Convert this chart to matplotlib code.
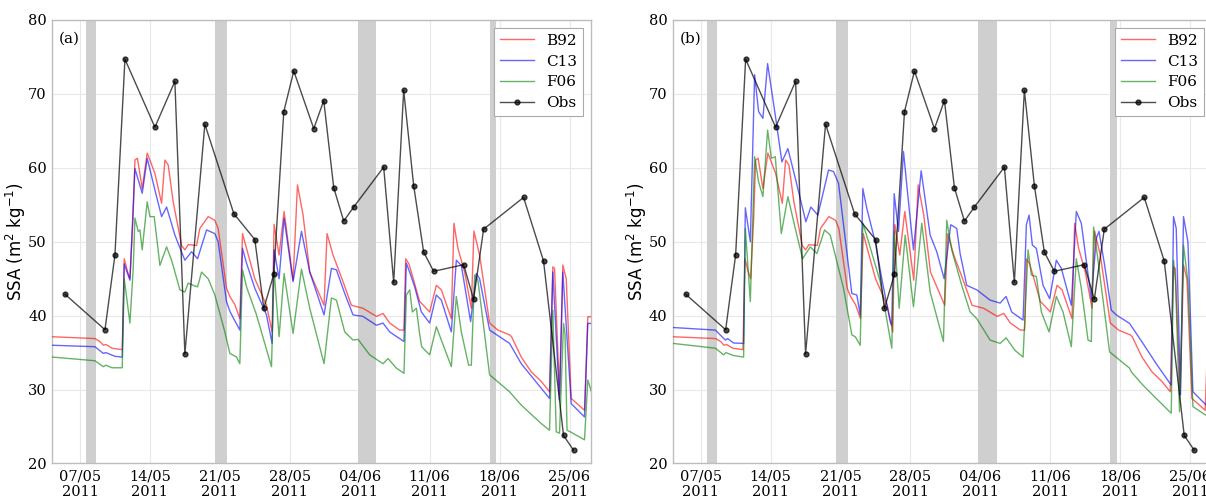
import matplotlib
matplotlib.use("Agg")
import matplotlib.pyplot as plt
import matplotlib.dates as mdates
import numpy as np
import pandas as pd

BASE = pd.Timestamp("2011-05-01")

# ---- Observations (days since 2011-05-01, SSA) ----
obs_days = [4.5, 8.5, 9.5, 10.5, 13.5, 15.5, 16.5, 18.5, 21.4, 23.5, 24.4, 25.4,
            26.4, 27.4, 29.4, 30.4, 31.4, 32.4, 33.4, 36.4, 37.4, 38.4, 39.4, 40.4,
            41.4, 44.4, 45.4, 46.4, 50.4, 52.4, 54.4, 55.4]
obs_vals = [42.9, 38.1, 48.2, 74.7, 65.5, 71.7, 34.8, 65.9, 53.8, 50.3, 41.0, 45.6,
            67.6, 73.1, 65.3, 69.1, 57.3, 52.8, 54.7, 60.1, 44.5, 70.5, 57.6, 48.6,
            46.0, 46.9, 42.2, 51.7, 56.0, 47.4, 23.8, 21.8]

# ---- B92 (same in both panels) ----
b92_days = [3.2, 7.5, 8.0, 8.33, 8.6, 9.2, 10.23, 10.43, 10.75, 11.0, 11.3, 11.5, 11.75,
            12.23, 12.73, 13.5, 14.17, 14.5, 14.83, 15.33, 16.17, 16.5, 16.83, 17.33,
            17.67, 18.0, 18.83, 19.5, 19.83, 20.67, 21.0, 21.5, 22.0, 22.27, 22.67, 23.5,
            24.67, 25.23, 25.43, 25.93, 26.43, 27.33, 27.77, 28.33, 29.0, 30.43, 30.73,
            31.33, 32.33, 33.17, 34.33, 35.67, 36.33, 37.0, 38.0, 38.43, 38.6, 38.93,
            39.4, 40.0, 40.17, 41.0, 41.67, 42.17, 43.17, 43.43, 43.83, 44.5, 45.17,
            45.43, 46.0, 47.0, 47.83, 49.0, 49.2, 50.17, 51.17, 52.17, 53.0, 53.33,
            53.5, 54.0, 54.33, 54.67, 55.17, 56.5, 56.83, 57.2]
b92_vals = [37.15, 36.9, 36.5, 36.0, 36.1, 35.6, 35.4, 47.7, 46.0, 45.0, 53.0, 61.05, 61.3,
            57.2, 62.0, 59.25, 55.2, 61.05, 60.4, 55.4, 49.5, 48.9, 49.6, 49.55,
            49.5, 51.8, 53.4, 52.9, 51.8, 43.7, 42.6, 41.5, 39.6, 51.1, 49.1, 45.0,
            41.4, 37.8, 52.35, 48.2, 54.1, 44.8, 57.7, 53.6, 45.9, 41.4, 51.1,
            48.2, 44.6, 41.4, 41.0, 39.9, 40.3, 39.0, 38.05, 38.05, 47.7, 47.0,
            44.8, 41.9, 41.7, 40.5, 44.1, 43.5, 39.6, 52.5, 49.1, 45.9, 41.0,
            51.45, 48.2, 39.0, 38.05, 37.4, 37.15, 34.4, 32.4, 31.1, 29.7, 46.6,
            46.4, 29.3, 46.85, 45.0, 28.8, 27.2, 39.85, 39.85]

# ---- Panel (a): C13 ----
c13a_days = [3.2, 7.5, 8.33, 8.6, 9.5, 10.23, 10.43, 11.0, 11.5, 12.23, 12.73, 13.5,
             14.17, 14.67, 15.5, 16.5, 17.17, 17.77, 18.67, 19.5, 19.83, 20.67, 21.0,
             21.5, 22.0, 22.27, 22.67, 23.5, 24.67, 25.23, 25.43, 25.93, 26.43, 27.33,
             28.17, 29.0, 30.43, 31.17, 31.67, 32.5, 33.33, 34.33, 35.67, 36.33, 37.0,
             38.43, 38.67, 39.0, 39.5, 40.17, 41.0, 41.67, 42.17, 43.17, 43.67, 44.17,
             45.1, 45.67, 46.0, 47.0, 49.0, 50.17, 53.0, 53.33, 54.0, 54.33, 55.17,
             56.5, 56.83, 57.2]
c13a_vals = [36.0, 35.8, 34.9, 35.0, 34.5, 34.4, 47.0, 44.8, 59.9, 56.55, 61.3, 57.0,
             53.4, 54.7, 50.9, 47.5, 48.65, 47.7, 51.6, 51.1, 50.0, 41.9, 40.6,
             39.3, 38.05, 49.1, 47.1, 43.7, 40.1, 36.25, 48.9, 45.0, 53.2, 44.6,
             51.4, 45.9, 40.1, 46.4, 46.2, 43.0, 40.1, 39.9, 38.7, 39.0, 37.8,
             36.5, 47.1, 45.9, 43.9, 40.5, 39.0, 42.8, 42.1, 37.8, 47.5, 46.8,
             39.2, 45.7, 45.0, 38.05, 36.25, 33.5, 28.8, 45.9, 28.6, 45.9, 28.1,
             26.3, 38.95, 38.95]

# ---- Panel (a): F06 ----
f06a_days = [3.2, 7.5, 8.33, 8.6, 9.2, 10.23, 10.43, 11.0, 11.33, 11.5, 11.83, 12.0,
             12.23, 12.73, 13.0, 13.43, 14.0, 14.67, 15.17, 16.0, 16.5, 16.83, 17.33,
             17.77, 18.17, 18.83, 19.5, 20.5, 21.0, 21.67, 22.0, 22.27, 22.67, 23.67,
             25.17, 25.43, 25.93, 26.43, 27.33, 28.17, 29.0, 30.43, 31.17, 31.67, 32.5,
             33.33, 33.83, 35.0, 36.33, 36.83, 37.67, 38.43, 38.67, 39.0, 39.27, 39.67,
             40.0, 40.2, 41.0, 41.67, 43.17, 43.67, 44.17, 44.9, 45.17, 45.5, 45.83,
             47.0, 49.0, 50.17, 52.17, 53.0, 53.33, 53.67, 54.0, 54.4, 54.55, 54.75,
             55.2, 56.5, 56.83, 57.2]
f06a_vals = [34.4, 33.9, 33.1, 33.3, 32.95, 32.95, 45.0, 39.0, 46.4, 53.2, 51.4, 51.6,
             48.9, 55.4, 53.4, 53.4, 46.8, 49.3, 47.5, 43.5, 43.2, 44.4, 44.1,
             43.9, 45.9, 45.0, 42.8, 37.8, 34.9, 34.4, 33.5, 46.2, 43.9, 40.1,
             33.1, 46.2, 37.15, 45.7, 37.6, 46.3, 41.0, 33.5, 42.4, 42.1, 37.8,
             36.7, 36.8, 34.7, 33.5, 34.2, 32.9, 32.2, 42.8, 43.5, 40.5, 41.0,
             37.5, 35.8, 34.7, 38.5, 33.1, 42.6, 37.8, 33.3, 33.3, 45.5, 44.8,
             32.0, 29.7, 27.9, 25.4, 24.5, 40.75, 24.3, 24.1, 38.95, 37.5, 24.5,
             24.2, 23.2, 31.3, 29.7]

# ---- Panel (b): C13 ----
c13b_days = [3.2, 7.47, 8.1, 8.47, 8.7, 9.3, 10.3, 10.47, 10.97, 11.4, 11.8, 12.23,
             12.7, 13.47, 14.13, 14.73, 15.47, 16.53, 17.03, 17.73, 18.8, 19.3, 19.8,
             21.13, 21.63, 21.97, 22.23, 22.63, 23.47, 24.13, 24.97, 25.13, 25.37, 25.8,
             26.3, 26.8, 27.3, 28.07, 28.97, 29.63, 30.37, 31.03, 31.63, 31.97, 32.63,
             33.63, 34.97, 35.97, 36.57, 37.13, 38.27, 38.6, 38.87, 39.2, 39.6, 40.27,
             40.93, 41.6, 42.1, 43.1, 43.6, 44.1, 45.1, 45.6, 45.87, 46.43, 47.1, 47.6,
             48.93, 50.27, 51.6, 53.1, 53.33, 53.6, 54.03, 54.33, 54.77, 55.27, 56.6,
             57.2]
c13b_vals = [38.4, 38.05, 37.2, 36.7, 36.9, 36.3, 36.25, 54.6, 50.0, 72.6, 67.6, 66.7,
             74.1, 67.1, 60.8, 62.6, 58.6, 52.7, 54.7, 53.6, 59.7, 59.5, 57.9,
             43.0, 42.8, 40.1, 57.2, 54.5, 50.0, 45.0, 39.2, 38.7, 56.5, 51.4,
             62.2, 55.4, 48.9, 59.6, 50.9, 48.65, 45.0, 52.3, 51.8, 48.4, 44.1,
             43.5, 42.1, 41.7, 42.6, 40.5, 39.4, 52.3, 53.6, 49.55, 49.1, 44.1,
             42.3, 47.5, 46.4, 41.4, 54.1, 52.5, 42.3, 50.45, 51.4, 46.85, 40.75, 40.1,
             38.95, 36.25, 33.5, 30.6, 53.4, 51.8, 29.3, 53.4, 50.0, 29.7, 27.9,
             27.5]

# ---- Panel (b): F06 ----
f06b_days = [3.2, 7.47, 8.3, 8.53, 9.3, 10.3, 10.47, 10.97, 11.4, 11.8, 12.23, 12.7,
             13.07, 13.47, 14.07, 14.73, 15.47, 16.2, 16.97, 17.63, 18.4, 18.97, 19.3,
             20.3, 21.13, 21.47, 21.97, 22.23, 22.8, 23.97, 25.13, 25.37, 25.87, 26.47,
             27.3, 28.13, 28.97, 30.3, 30.63, 31.13, 32.13, 32.97, 33.63, 34.97, 35.97,
             36.57, 37.47, 38.27, 38.77, 39.1, 39.6, 40.1, 40.87, 41.6, 42.27, 43.1,
             43.6, 44.1, 44.77, 45.1, 45.33, 45.77, 46.93, 48.93, 49.1, 50.27, 51.6,
             53.1, 53.33, 53.53, 53.93, 54.33, 54.77, 55.27, 56.6, 57.2]
f06b_vals = [36.25, 35.6, 34.7, 35.0, 34.6, 34.4, 51.8, 41.9, 61.5, 58.1, 56.1, 65.1,
             61.3, 61.5, 51.1, 56.1, 51.8, 47.7, 49.3, 48.4, 51.6, 50.9, 49.1,
             43.7, 37.4, 37.15, 36.0, 52.5, 50.0, 44.6, 35.6, 51.4, 41.0, 50.9,
             41.2, 52.5, 43.2, 36.5, 52.9, 48.9, 44.1, 40.5, 39.6, 36.7, 36.25,
             37.0, 35.3, 34.4, 48.9, 45.5, 45.3, 40.5, 37.8, 42.6, 40.5, 35.8,
             47.7, 43.7, 36.7, 36.5, 52.0, 47.5, 35.1, 32.9, 32.4, 30.6, 28.8,
             26.8, 47.5, 44.6, 27.0, 49.55, 44.6, 27.7, 26.5, 26.2]

# ---- Shaded periods (days since 2011-05-01) ----
shade_start = [6.6, 19.55, 33.8, 47.0]
shade_end = [7.65, 20.75, 35.65, 47.67]

tick_dates = ["2011-05-07", "2011-05-14", "2011-05-21", "2011-05-28",
              "2011-06-04", "2011-06-11", "2011-06-18", "2011-06-25"]
panel_labels = ["(a)", "(b)"]


def to_time(days):
    return BASE + pd.to_timedelta(np.asarray(days, dtype=float), unit="D")


SERIF = "DejaVu Serif"

fig = plt.figure(figsize=(12.06, 4.98), dpi=100)
ax_a = fig.add_axes([0.04337, 0.06928, 0.44668, 0.89056])
ax_b = fig.add_axes([0.55804, 0.06928, 0.44668, 0.89056])

panels = [
    (ax_a, c13a_days, c13a_vals, f06a_days, f06a_vals),
    (ax_b, c13b_days, c13b_vals, f06b_days, f06b_vals),
]

for i, (ax, cd, cv, fd, fv) in enumerate(panels):
    for s, e in zip(shade_start, shade_end):
        ax.axvspan(to_time([s])[0], to_time([e])[0], color="#cfcfcf", lw=0, zorder=1)
    ax.plot(to_time(b92_days), b92_vals, color="red", alpha=0.6, lw=1.0, label="B92", zorder=3)
    ax.plot(to_time(cd), cv, color="blue", alpha=0.6, lw=1.0, label="C13", zorder=3)
    ax.plot(to_time(fd), fv, color="green", alpha=0.6, lw=1.0, label="F06", zorder=3)
    ax.plot(to_time(obs_days), obs_vals, color="black", alpha=0.7, lw=1.0,
            marker="o", ms=3.5, mfc="black", mec="black", label="Obs", zorder=4)

    ax.set_ylim(20, 80)
    ax.set_xlim(to_time([3.23])[0], to_time([57.15])[0])
    ax.set_yticks([20, 30, 40, 50, 60, 70, 80])
    ax.set_xticks(pd.to_datetime(tick_dates))
    ax.xaxis.set_major_formatter(mdates.DateFormatter("%d/%m\n%Y"))
    ax.grid(True, color="#e8e8e8", lw=0.8, zorder=0)
    ax.set_axisbelow(True)
    ax.tick_params(length=0, pad=4, labelsize=10.5)
    for lab in ax.get_xticklabels() + ax.get_yticklabels():
        lab.set_fontfamily(SERIF)
    for sp in ax.spines.values():
        sp.set_color("#bdbdbd")
        sp.set_linewidth(1.0)
    ax.set_ylabel("SSA (m$^2$ kg$^{-1}$)", fontsize=12, family="DejaVu Sans")
    ax.yaxis.set_label_coords(-0.045, 0.5)
    ax.text(0.012, 0.957, panel_labels[i], transform=ax.transAxes, fontsize=11,
            family=SERIF, va="center", ha="left", zorder=6)
    leg = ax.legend(loc="upper right", prop={"family": SERIF, "size": 11},
                    fancybox=False, framealpha=1, edgecolor="#aaaaaa",
                    borderaxespad=0.5, handlelength=2.2, labelspacing=0.45)
    leg.get_frame().set_linewidth(0.8)
    leg.set_zorder(10)

fig.savefig("out.png", dpi=100)
